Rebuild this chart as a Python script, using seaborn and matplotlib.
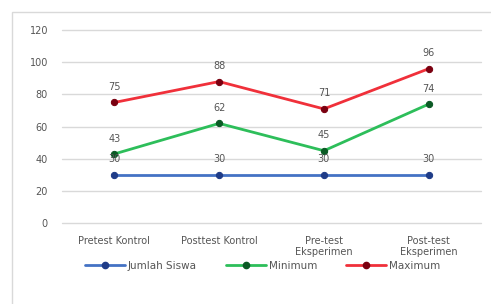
import matplotlib
matplotlib.use("Agg")
import matplotlib.pyplot as plt
import seaborn as sns
import pandas as pd
from matplotlib.lines import Line2D
from matplotlib.patches import Rectangle

# dati
kategori = ["Pretest Kontrol", "Posttest Kontrol", "Pre-test\nEksperimen", "Post-test\nEksperimen"]
jumlah_siswa = [30, 30, 30, 30]
minimum = [43, 62, 45, 74]
maximum = [75, 88, 71, 96]
yticks = [0, 20, 40, 60, 80, 100, 120]

serie = ["Jumlah Siswa", "Minimum", "Maximum"]
colori = {"Jumlah Siswa": "#4472C4", "Minimum": "#2DBE5A", "Maximum": "#F0303A"}
marker_col = {"Jumlah Siswa": "#1F3C88", "Minimum": "#0B5A25", "Maximum": "#7A0010"}

rows = []
for nome, vals in zip(serie, [jumlah_siswa, minimum, maximum]):
    for i, v in enumerate(vals):
        rows.append({"pos": i, "val": v, "serie": nome})
df = pd.DataFrame(rows)

sns.set_style("white")
plt.rcParams["font.family"] = ["DejaVu Sans"]

fig = plt.figure(figsize=(4.91, 3.04), dpi=100)
ax = fig.add_axes([0.126, 0.266, 0.854, 0.635])

for nome in serie:
    sub = df[df["serie"] == nome]
    sns.lineplot(data=sub, x="pos", y="val", ax=ax, color=colori[nome], lw=2,
                 marker="o", markersize=4.5, markerfacecolor=marker_col[nome],
                 markeredgecolor=marker_col[nome], legend=False)
    for x, y in zip(sub["pos"], sub["val"]):
        ax.text(x, y + 6.5, str(y), ha="center", va="bottom", fontsize=7, color="#555555")

ax.set_xlim(-0.5, 3.5)
ax.set_ylim(0, 120)
ax.set_yticks(yticks)
ax.set_xticks(range(len(kategori)))
ax.set_xticklabels(kategori, fontsize=7, color="#555555")
ax.tick_params(axis="y", labelsize=7, labelcolor="#555555", length=0, pad=10)
ax.tick_params(axis="x", length=0, pad=9)
ax.grid(axis="y", color="#D9D9D9", lw=1)
for gl in ax.get_ygridlines():
    gl.set_clip_on(False)
ax.set_axisbelow(True)
ax.set_xlabel("")
ax.set_ylabel("")
for s in ax.spines.values():
    s.set_visible(False)

handles = [Line2D([0], [0], color=colori[n], lw=2, marker="o", markersize=4.5,
                  markerfacecolor=marker_col[n], markeredgecolor=marker_col[n]) for n in serie]
fig.legend(handles, serie, loc="center", bbox_to_anchor=(0.535, 0.125), ncol=3, frameon=False,
           fontsize=7.5, labelcolor="#555555", handlelength=3.8, columnspacing=2.8, handletextpad=0.3)

fig.patches.append(Rectangle((0.025, -0.01), 0.99, 0.97, transform=fig.transFigure,
                             fill=False, edgecolor="#D9D9D9", lw=1))

fig.savefig("out.png", dpi=100)
